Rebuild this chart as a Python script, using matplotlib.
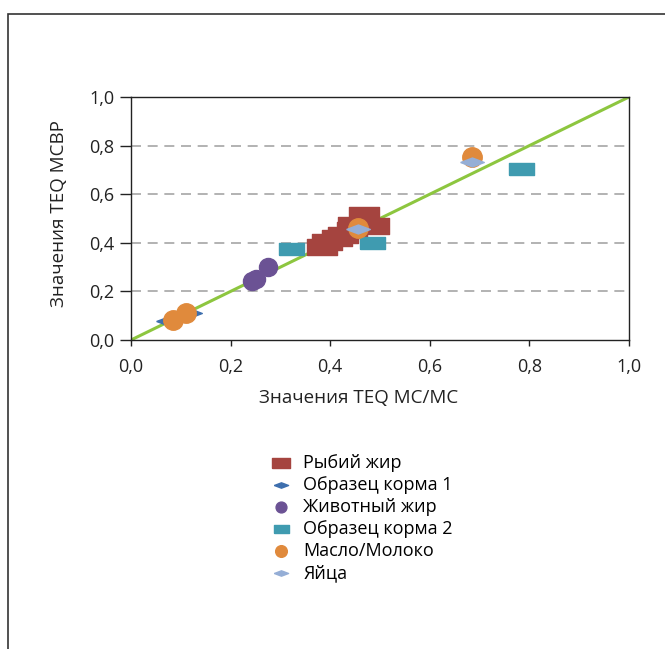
import matplotlib.pyplot as plt
from matplotlib.patches import Rectangle
from matplotlib.ticker import FuncFormatter

plt.rcParams['font.family'] = ['Open Sans', 'DejaVu Sans']

# values (x = TEQ MC/MC, y = TEQ MCBP)
fish_x = [0.383, 0.393, 0.413, 0.425, 0.444, 0.446, 0.468, 0.487]
fish_y = [0.384, 0.405, 0.418, 0.432, 0.453, 0.473, 0.514, 0.469]
feed1_x = [0.075, 0.118]
feed1_y = [0.078, 0.112]
animal_x = [0.243, 0.251, 0.276]
animal_y = [0.243, 0.251, 0.299]
feed2_x = [0.321, 0.484, 0.783]
feed2_y = [0.376, 0.399, 0.704]
butter_x = [0.085, 0.110, 0.456, 0.685]
butter_y = [0.082, 0.110, 0.462, 0.754]
eggs_x = [0.455, 0.685]
eggs_y = [0.455, 0.733]

rect = [(-1, -0.5), (1, -0.5), (1, 0.5), (-1, 0.5), (-1, -0.5)]
flat_diamond = [(-1, 0), (0, 0.38), (1, 0), (0, -0.38), (-1, 0)]

fig = plt.figure(figsize=(6.65, 6.49), dpi=100)
fig.patches.append(Rectangle((8 / 665, -0.1), 1.2, 1.1 - 14 / 649, transform=fig.transFigure,
                             fill=False, edgecolor='#333333', linewidth=1.2))

ax = fig.add_axes([131 / 665, 1 - 340 / 649, 498 / 665, 243 / 649])

for y in [0.2, 0.4, 0.6, 0.8]:
    ax.axhline(y, color='#a6a6a6', linestyle=(0, (6, 4)), linewidth=1.2, zorder=0)
ax.plot([0, 1], [0, 1], color='#8dc63f', linewidth=2.2, zorder=1)

ax.scatter(fish_x, fish_y, marker=rect, s=22 ** 2, color='#a5443f', label='Рыбий жир', zorder=2)
ax.scatter(feed1_x, feed1_y, marker=flat_diamond, s=17 ** 2, color='#3e6fae', label='Образец корма 1', zorder=2)
ax.scatter(animal_x, animal_y, marker='o', s=13 ** 2, color='#6b5294', label='Животный жир', zorder=3)
ax.scatter(feed2_x, feed2_y, marker=rect, s=18 ** 2, color='#3f9bb0', label='Образец корма 2', zorder=3)
ax.scatter(butter_x, butter_y, marker='o', s=14 ** 2, color='#e08a3c', label='Масло/Молоко', zorder=4)
ax.scatter(eggs_x, eggs_y, marker=flat_diamond, s=17 ** 2, color='#95aed6', label='Яйца', zorder=5)

ax.set_xlim(0, 1)
ax.set_ylim(0, 1)
ticks = [0, 0.2, 0.4, 0.6, 0.8, 1.0]
ax.set_xticks(ticks)
ax.set_yticks(ticks)
fmt = FuncFormatter(lambda v, p: f"{v:.1f}".replace('.', ','))
ax.xaxis.set_major_formatter(fmt)
ax.yaxis.set_major_formatter(fmt)
ax.tick_params(axis='x', length=4, width=1, labelsize=13, colors='#222222', pad=9)
ax.tick_params(axis='y', length=8, width=1, labelsize=13, colors='#222222', pad=4)
for s in ax.spines.values():
    s.set_color('#222222')
    s.set_linewidth(1)

ax.set_xlabel('Значения TEQ МС/МС', fontsize=13.5, color='#222222', labelpad=11)
ax.xaxis.set_label_coords(0.458, -0.2)
ax.set_ylabel('Значения TEQ МСВР', fontsize=13.5, color='#222222', labelpad=11)
ax.yaxis.set_label_coords(-0.126, 0.52)

handles, labels = ax.get_legend_handles_labels()
fig.legend(handles, labels, loc='upper left', bbox_to_anchor=(258 / 665, 1 - 447 / 649),
           frameon=False, fontsize=13, handletextpad=0.3, labelspacing=0.22,
           handlelength=1.8, markerscale=0.6, borderaxespad=0)

fig.savefig('out.png', dpi=100)
